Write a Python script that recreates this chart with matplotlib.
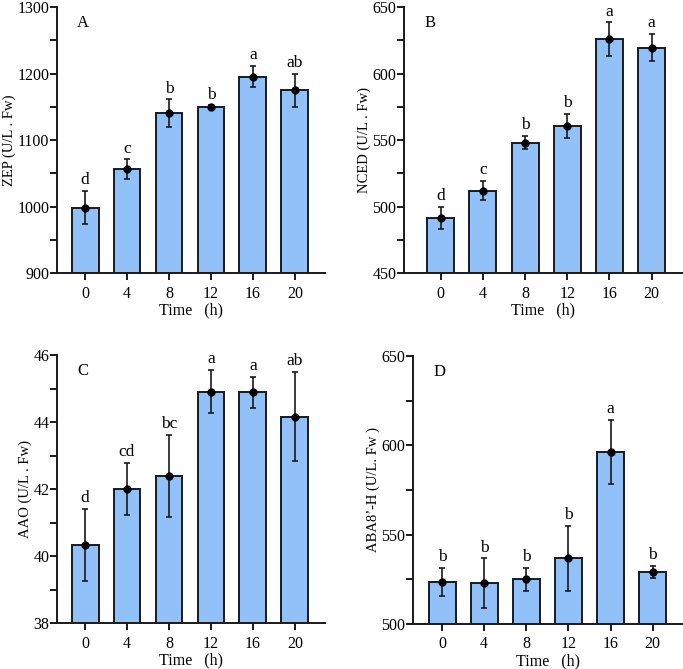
import matplotlib
matplotlib.use("Agg")
import matplotlib.pyplot as plt
from matplotlib.ticker import MultipleLocator

plt.rcParams['font.family'] = ['Liberation Serif', 'DejaVu Serif']
plt.rcParams['font.size'] = 11

times = ["0", "4", "8", "12", "16", "20"]
xlabel_text = "Time\u2002 (h)"

zep_mean = [998, 1056, 1140, 1149, 1195, 1175]
zep_err = [25, 15, 21, 3, 16, 25]
zep_sig = ["d", "c", "b", "b", "a", "ab"]

nced_mean = [491.3, 512, 548, 560.8, 626, 619.5]
nced_err = [8.5, 7, 5, 9, 12.5, 10]
nced_sig = ["d", "c", "b", "b", "a", "a"]

aao_mean = [40.33, 42.01, 42.39, 44.91, 44.89, 44.16]
aao_err = [1.07, 0.78, 1.22, 0.64, 0.46, 1.33]
aao_sig = ["d", "cd", "bc", "a", "a", "ab"]

aba_mean = [523.6, 522.9, 525.1, 536.8, 596.4, 529.2]
aba_err = [7.7, 13.8, 6.5, 18.3, 17.9, 3.3]
aba_sig = ["b", "b", "b", "b", "a", "b"]

W, H = 683, 669
fig = plt.figure(figsize=(W / 100, H / 100), dpi=100)

def rect(l, r, t, b):
    return [l / W, 1 - b / H, (r - l) / W, (b - t) / H]

panels = [
    dict(rect=rect(57, 325, 7, 273), mean=zep_mean, err=zep_err, sig=zep_sig,
         ylim=(900, 1300), major=100, minor=50, label="ZEP (U/L . Fw)", tag="A",
         xlim=(-0.67, 5.72)),
    dict(rect=rect(404, 682, 7, 273), mean=nced_mean, err=nced_err, sig=nced_sig,
         ylim=(450, 650), major=50, minor=25, label="NCED (U/L . Fw)", tag="B",
         xlim=(-0.87, 5.72)),
    dict(rect=rect(57, 325, 355, 623), mean=aao_mean, err=aao_err, sig=aao_sig,
         ylim=(38, 46), major=2, minor=1, label="AAO (U/L . Fw)", tag="C",
         xlim=(-0.67, 5.72)),
    dict(rect=rect(413, 683, 356, 624), mean=aba_mean, err=aba_err, sig=aba_sig,
         ylim=(500, 650), major=50, minor=25, label="ABA8\u2019-H (U/L. Fw )", tag="D",
         xlim=(-0.69, 5.72)),
]

bar_color = "#92C0F8"
x = list(range(len(times)))

for p in panels:
    ax = fig.add_axes(p["rect"])
    ax.bar(x, p["mean"], width=0.64, color=bar_color, edgecolor="#1a1a1a",
           linewidth=1.4, zorder=2)
    ax.errorbar(x, p["mean"], yerr=p["err"], fmt="o", color="black", ms=5,
                ecolor="#1a1a1a", elinewidth=1.2, capsize=2.5, capthick=1.2, zorder=3)
    for xi, m, e, s in zip(x, p["mean"], p["err"], p["sig"]):
        ax.annotate(s, (xi, m + e), xytext=(0, 2), textcoords="offset points",
                    ha="center", va="bottom", fontsize=12.5)
    ax.set_ylim(*p["ylim"])
    ax.set_xlim(*p["xlim"])
    ax.set_xticks(x)
    ax.set_xticklabels(times)
    ax.yaxis.set_major_locator(MultipleLocator(p["major"]))
    ax.yaxis.set_minor_locator(MultipleLocator(p["minor"]))
    for sp in ["top", "right"]:
        ax.spines[sp].set_visible(False)
    for sp in ["left", "bottom"]:
        ax.spines[sp].set_linewidth(1.4)
        ax.spines[sp].set_color("#1a1a1a")
    ax.tick_params(axis="both", which="major", direction="out", length=5, width=1.4,
                   labelsize=11.5, color="#1a1a1a")
    ax.tick_params(axis="y", which="minor", direction="out", length=5, width=1.4,
                   color="#1a1a1a")
    ax.tick_params(axis="y", which="major", pad=0.5)
    ax.tick_params(axis="x", which="major", pad=4)
    ax.set_xlabel(xlabel_text, fontsize=11.5, labelpad=1)
    ax.set_ylabel(p["label"], fontsize=10.5, labelpad=1)
    ax.text(0.075, 0.94, p["tag"], transform=ax.transAxes, fontsize=12,
            ha="left", va="center")

fig.savefig("out.png", dpi=100)
